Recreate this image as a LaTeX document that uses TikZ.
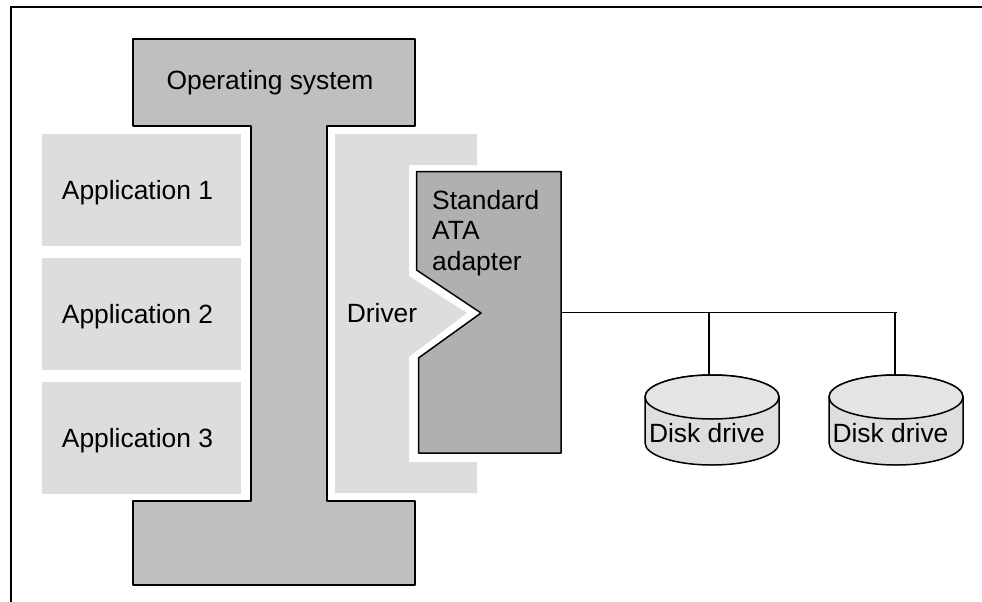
\documentclass[tikz,border=0pt]{standalone}
\usepackage{fontspec}
\setmainfont{Liberation Sans}
\tikzset{
  outline/.style={draw=black,line width=1.5pt,line join=round},
  boxtext/.style={inner sep=0pt,font=\fontsize{26.4}{30.5}\selectfont},
  diskrim/.style={x radius=67pt,y radius=22pt},
}
\definecolor{osgrey}{gray}{0.75}
\definecolor{softgrey}{gray}{0.865}
\definecolor{adaptergrey}{gray}{0.69}
\definecolor{diskbody}{gray}{0.87}
\definecolor{disktop}{gray}{0.895}
\begin{document}
\begin{tikzpicture}[x=1pt,y=-1pt]
  \useasboundingbox (0,0) rectangle (982,602);
  \draw[line width=1.5pt] (11,602) -- (11,7) -- (982,7);
  % operating system block
  \draw[outline,fill=osgrey] (133,39) -- (415,39) -- (415,126) -- (327,126) -- (327,501) -- (415,501)
    -- (415,585) -- (133,585) -- (133,501) -- (251,501) -- (251,126) -- (133,126) -- cycle;
  \node[boxtext] (os) at (270,83) {Operating system};
  \foreach \N/\Y in {1/134,2/258,3/382} {%
    \fill[softgrey] (42,\Y) rectangle (241,\Y+112);
    \node[boxtext] (app\N) at (137.5,\Y+59) {Application \N};
  }
  % driver and adapter
  \fill[softgrey] (335,134) -- (477,134) -- (477,165) -- (409,165) -- (409,276) -- (467,313) -- (409,357)
    -- (409,462) -- (477,462) -- (477,493) -- (335,493) -- cycle;
  \node[boxtext] (driver) at (382,313) {Driver};
  \draw[outline,fill=adaptergrey] (416.5,171.5) -- (561,171.5) -- (561,453) -- (418.5,453) -- (418.5,358)
    -- (481,313) -- (416.5,270) -- cycle;
  \node[boxtext,align=left,anchor=west] (adapter) at (432,233) {Standard\\ATA\\adapter};
  % bus and disks
  \coordinate (adapterport) at (561,312.5);
  \coordinate (busend) at (897,312.5);
  \draw[line width=1.5pt] (adapterport) -- (busend);
  \foreach \N/\X/\T/\D in {1/712/707/709,2/896/890.5/895} {%
    \draw[outline,fill=diskbody] (\X-67,397) -- (\X-67,443) arc[start angle=180,end angle=360,diskrim]
      -- (\X+67,397) arc[start angle=0,end angle=180,diskrim] -- cycle;
    \draw[outline,fill=disktop] (\X,397) ellipse[diskrim];
    \coordinate (disktop\N) at (\D,375);
    \node[boxtext] (disktext\N) at (\T,433) {Disk drive};
    \draw[line width=1.5pt] (disktop\N) -- (disktop\N |- busend);
  }
\end{tikzpicture}
\end{document}
